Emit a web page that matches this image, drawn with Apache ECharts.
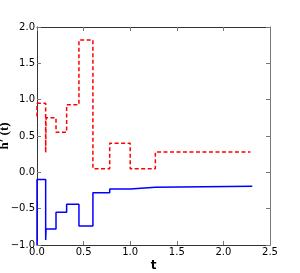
<!DOCTYPE html>
<html>
<head>
<meta charset="utf-8">
<script src="https://cdn.jsdelivr.net/npm/echarts@6/dist/echarts.min.js"></script>
<style>html,body{margin:0;padding:0;background:#fff}#c{width:300px;height:273px}</style>
</head>
<body>
<div id="c"></div>
<script>
// Step breakpoints (t) and values held from each breakpoint to the next
var redT    = [0, 0, 0.093, 0.097, 0.204, 0.318, 0.45, 0.60, 0.78, 1.0, 1.27, 2.29];
var redVals = [0.77, 0.95, 0.27, 0.75, 0.55, 0.93, 1.82, 0.05, 0.40, 0.05, 0.28, 0.28];
var blueT    = [0, 0, 0.093, 0.097, 0.204, 0.318, 0.45, 0.60, 0.78, 1.0, 1.27, 2.31];
var blueVals = [-1.0, -0.10, -0.93, -0.78, -0.55, -0.44, -0.74, -0.28, -0.23, -0.205, -0.19, -0.19];
var xTicks = [0, 0.5, 1.0, 1.5, 2.0, 2.5];
var yTicks = [-1.0, -0.5, 0.0, 0.5, 1.0, 1.5, 2.0];

function pairs(t, v) { return t.map(function (x, i) { return [x, v[i]]; }); }
function fmt(v) { return (v < 0 ? '\u2212' : '') + Math.abs(v).toFixed(1); }

var spine = '#333';
var tickStyle = { show: true, inside: true, length: 4, lineStyle: { color: '#777', width: 1 } };
var labelFont = { fontFamily: 'DejaVu Sans', fontSize: 10, color: '#000' };

var chart = echarts.init(document.getElementById('c'), null, { renderer: 'canvas' });
chart.setOption({
  animation: false,
  grid: { left: 37, right: 30, top: 27, bottom: 28, containLabel: false, outerBoundsMode: 'none' },
  xAxis: [{
    type: 'value', min: xTicks[0], max: xTicks[xTicks.length - 1], interval: 0.5,
    position: 'bottom',
    axisLine: { show: true, onZero: false, lineStyle: { color: spine, width: 1 } },
    axisTick: tickStyle,
    splitLine: { show: false },
    axisLabel: Object.assign({ margin: 2, formatter: fmt }, labelFont),
    name: 't', nameLocation: 'middle', nameGap: 15, nameMoveOverlap: false,
    nameTextStyle: { fontFamily: 'DejaVu Sans', fontWeight: 'bold', fontSize: 12, color: '#000' }
  }, {
    type: 'value', min: xTicks[0], max: xTicks[xTicks.length - 1], interval: 0.5,
    position: 'top',
    axisLine: { show: true, onZero: false, lineStyle: { color: spine, width: 1 } },
    axisTick: tickStyle, splitLine: { show: false }, axisLabel: { show: false }
  }],
  yAxis: [{
    type: 'value', min: yTicks[0], max: yTicks[yTicks.length - 1], interval: 0.5,
    position: 'left',
    axisLine: { show: true, onZero: false, lineStyle: { color: spine, width: 1 } },
    axisTick: tickStyle,
    splitLine: { show: false },
    axisLabel: Object.assign({ margin: 2, formatter: fmt }, labelFont),
    name: "h\u2032 (t)", nameLocation: 'middle', nameGap: 26, nameRotate: 90, nameMoveOverlap: false,
    nameTextStyle: { fontFamily: 'Liberation Serif', fontWeight: 'bold', fontSize: 13, color: '#000' }
  }, {
    type: 'value', min: yTicks[0], max: yTicks[yTicks.length - 1], interval: 0.5,
    position: 'right',
    axisLine: { show: true, onZero: false, lineStyle: { color: '#777', width: 1 } },
    axisTick: tickStyle, splitLine: { show: false }, axisLabel: { show: false }
  }],
  series: [{
    type: 'line', step: 'end', showSymbol: false, symbol: 'none', clip: true,
    data: pairs(redT, redVals),
    lineStyle: { color: '#ff0000', width: 1.5, type: [4, 2.5] }
  }, {
    type: 'line', step: 'end', showSymbol: false, symbol: 'none', clip: true,
    data: pairs(blueT, blueVals),
    lineStyle: { color: '#0000ff', width: 1.5, type: 'solid' }
  }]
});
</script>
</body>
</html>
